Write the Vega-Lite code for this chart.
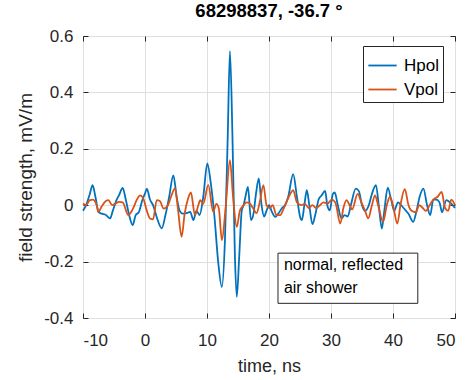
{
  "$schema": "https://vega.github.io/schema/vega-lite/v6.json",
  "autosize": "none",
  "width": 372,
  "height": 282,
  "padding": {"left": 83, "top": 36, "right": 10, "bottom": 62},
  "background": "white",
  "config": {
    "font": "Liberation Sans",
    "view": {"stroke": "#262626", "strokeWidth": 1},
    "axis": {
      "labelFont": "Liberation Sans",
      "titleFont": "Liberation Sans",
      "labelFontSize": 17,
      "labelColor": "#262626",
      "titleColor": "#262626",
      "titleFontSize": 18,
      "titleFontWeight": "normal",
      "tickColor": "#262626",
      "tickSize": -5,
      "domain": false,
      "gridColor": "#dfdfdf",
      "gridWidth": 1
    }
  },
  "title": {
    "text": "68298837, -36.7 °",
    "fontSize": 18.5,
    "fontWeight": "bold",
    "font": "Liberation Sans",
    "color": "#000000",
    "anchor": "middle",
    "offset": 7
  },
  "resolve": {"axis": {"x": "independent", "y": "independent"}},
  "layer": [
    {
      "data": {
        "values": [
          {"time": -10, "field": -0.02, "pol": "Hpol"},
          {"time": -9.5, "field": 0.0, "pol": "Hpol"},
          {"time": -8.9, "field": 0.04, "pol": "Hpol"},
          {"time": -8.45, "field": 0.071, "pol": "Hpol"},
          {"time": -8.0, "field": 0.03, "pol": "Hpol"},
          {"time": -7.5, "field": -0.024, "pol": "Hpol"},
          {"time": -7.0, "field": -0.03, "pol": "Hpol"},
          {"time": -6.3, "field": -0.035, "pol": "Hpol"},
          {"time": -5.65, "field": -0.047, "pol": "Hpol"},
          {"time": -5.2, "field": -0.02, "pol": "Hpol"},
          {"time": -4.6, "field": 0.018, "pol": "Hpol"},
          {"time": -4.2, "field": 0.035, "pol": "Hpol"},
          {"time": -3.6, "field": 0.061, "pol": "Hpol"},
          {"time": -3.1, "field": 0.02, "pol": "Hpol"},
          {"time": -2.5, "field": -0.04, "pol": "Hpol"},
          {"time": -2.0, "field": -0.071, "pol": "Hpol"},
          {"time": -1.5, "field": -0.035, "pol": "Hpol"},
          {"time": -1.0, "field": -0.025, "pol": "Hpol"},
          {"time": -0.4, "field": 0.02, "pol": "Hpol"},
          {"time": 0.0, "field": 0.041, "pol": "Hpol"},
          {"time": 0.3, "field": 0.059, "pol": "Hpol"},
          {"time": 0.8, "field": 0.02, "pol": "Hpol"},
          {"time": 1.3, "field": 0.0, "pol": "Hpol"},
          {"time": 2.0, "field": -0.05, "pol": "Hpol"},
          {"time": 2.7, "field": -0.082, "pol": "Hpol"},
          {"time": 3.3, "field": -0.035, "pol": "Hpol"},
          {"time": 3.9, "field": 0.03, "pol": "Hpol"},
          {"time": 4.57, "field": 0.106, "pol": "Hpol"},
          {"time": 5.1, "field": 0.03, "pol": "Hpol"},
          {"time": 5.6, "field": -0.02, "pol": "Hpol"},
          {"time": 6.1, "field": -0.03, "pol": "Hpol"},
          {"time": 6.7, "field": -0.028, "pol": "Hpol"},
          {"time": 7.3, "field": -0.024, "pol": "Hpol"},
          {"time": 7.8, "field": -0.053, "pol": "Hpol"},
          {"time": 8.3, "field": -0.02, "pol": "Hpol"},
          {"time": 8.8, "field": -0.035, "pol": "Hpol"},
          {"time": 9.4, "field": 0.03, "pol": "Hpol"},
          {"time": 10.05, "field": 0.148, "pol": "Hpol"},
          {"time": 10.6, "field": 0.08, "pol": "Hpol"},
          {"time": 11.2, "field": -0.04, "pol": "Hpol"},
          {"time": 11.8, "field": -0.2, "pol": "Hpol"},
          {"time": 12.4, "field": -0.29, "pol": "Hpol"},
          {"time": 12.9, "field": -0.12, "pol": "Hpol"},
          {"time": 13.35, "field": 0.25, "pol": "Hpol"},
          {"time": 13.7, "field": 0.546, "pol": "Hpol"},
          {"time": 14.1, "field": 0.25, "pol": "Hpol"},
          {"time": 14.5, "field": -0.18, "pol": "Hpol"},
          {"time": 14.8, "field": -0.325, "pol": "Hpol"},
          {"time": 15.2, "field": -0.18, "pol": "Hpol"},
          {"time": 15.6, "field": -0.02, "pol": "Hpol"},
          {"time": 15.9, "field": 0.0, "pol": "Hpol"},
          {"time": 16.2, "field": 0.03, "pol": "Hpol"},
          {"time": 16.6, "field": 0.065, "pol": "Hpol"},
          {"time": 17.1, "field": -0.053, "pol": "Hpol"},
          {"time": 17.5, "field": -0.03, "pol": "Hpol"},
          {"time": 17.9, "field": 0.04, "pol": "Hpol"},
          {"time": 18.35, "field": 0.095, "pol": "Hpol"},
          {"time": 18.8, "field": 0.0, "pol": "Hpol"},
          {"time": 19.2, "field": -0.04, "pol": "Hpol"},
          {"time": 19.6, "field": -0.02, "pol": "Hpol"},
          {"time": 20.0, "field": 0.0, "pol": "Hpol"},
          {"time": 20.4, "field": -0.02, "pol": "Hpol"},
          {"time": 21.0, "field": -0.041, "pol": "Hpol"},
          {"time": 21.5, "field": -0.03, "pol": "Hpol"},
          {"time": 22.1, "field": -0.01, "pol": "Hpol"},
          {"time": 22.6, "field": 0.0, "pol": "Hpol"},
          {"time": 23.1, "field": 0.03, "pol": "Hpol"},
          {"time": 23.9, "field": 0.11, "pol": "Hpol"},
          {"time": 24.5, "field": 0.03, "pol": "Hpol"},
          {"time": 25.0, "field": -0.04, "pol": "Hpol"},
          {"time": 25.3, "field": -0.053, "pol": "Hpol"},
          {"time": 25.7, "field": 0.0, "pol": "Hpol"},
          {"time": 26.1, "field": 0.053, "pol": "Hpol"},
          {"time": 26.5, "field": 0.0, "pol": "Hpol"},
          {"time": 27.0, "field": -0.067, "pol": "Hpol"},
          {"time": 27.5, "field": -0.03, "pol": "Hpol"},
          {"time": 28.0, "field": 0.02, "pol": "Hpol"},
          {"time": 28.5, "field": 0.035, "pol": "Hpol"},
          {"time": 29.05, "field": 0.051, "pol": "Hpol"},
          {"time": 29.4, "field": 0.0, "pol": "Hpol"},
          {"time": 29.8, "field": -0.018, "pol": "Hpol"},
          {"time": 30.3, "field": 0.04, "pol": "Hpol"},
          {"time": 30.6, "field": 0.045, "pol": "Hpol"},
          {"time": 31.1, "field": 0.0, "pol": "Hpol"},
          {"time": 31.7, "field": -0.047, "pol": "Hpol"},
          {"time": 32.2, "field": -0.035, "pol": "Hpol"},
          {"time": 32.7, "field": -0.04, "pol": "Hpol"},
          {"time": 33.2, "field": 0.0, "pol": "Hpol"},
          {"time": 34.0, "field": 0.059, "pol": "Hpol"},
          {"time": 34.5, "field": 0.05, "pol": "Hpol"},
          {"time": 35.0, "field": 0.0, "pol": "Hpol"},
          {"time": 35.5, "field": -0.02, "pol": "Hpol"},
          {"time": 36.1, "field": 0.0, "pol": "Hpol"},
          {"time": 36.6, "field": 0.04, "pol": "Hpol"},
          {"time": 37.25, "field": 0.071, "pol": "Hpol"},
          {"time": 37.7, "field": 0.0, "pol": "Hpol"},
          {"time": 38.2, "field": -0.083, "pol": "Hpol"},
          {"time": 38.6, "field": -0.02, "pol": "Hpol"},
          {"time": 39.15, "field": 0.062, "pol": "Hpol"},
          {"time": 39.7, "field": 0.02, "pol": "Hpol"},
          {"time": 40.2, "field": -0.02, "pol": "Hpol"},
          {"time": 40.8, "field": 0.01, "pol": "Hpol"},
          {"time": 41.3, "field": 0.0, "pol": "Hpol"},
          {"time": 41.9, "field": -0.015, "pol": "Hpol"},
          {"time": 42.5, "field": -0.03, "pol": "Hpol"},
          {"time": 43.25, "field": -0.059, "pol": "Hpol"},
          {"time": 43.8, "field": -0.02, "pol": "Hpol"},
          {"time": 44.3, "field": 0.03, "pol": "Hpol"},
          {"time": 44.9, "field": 0.059, "pol": "Hpol"},
          {"time": 45.5, "field": 0.0, "pol": "Hpol"},
          {"time": 46.0, "field": -0.035, "pol": "Hpol"},
          {"time": 46.5, "field": 0.02, "pol": "Hpol"},
          {"time": 47.0, "field": 0.02, "pol": "Hpol"},
          {"time": 47.5, "field": 0.01, "pol": "Hpol"},
          {"time": 47.9, "field": -0.025, "pol": "Hpol"},
          {"time": 48.6, "field": 0.018, "pol": "Hpol"},
          {"time": 49.2, "field": 0.01, "pol": "Hpol"},
          {"time": 50.0, "field": -0.01, "pol": "Hpol"},
          {"time": -10, "field": 0.006, "pol": "Vpol"},
          {"time": -9.5, "field": 0.0, "pol": "Vpol"},
          {"time": -8.9, "field": 0.018, "pol": "Vpol"},
          {"time": -8.4, "field": 0.02, "pol": "Vpol"},
          {"time": -7.8, "field": 0.0, "pol": "Vpol"},
          {"time": -7.5, "field": -0.024, "pol": "Vpol"},
          {"time": -7.0, "field": -0.005, "pol": "Vpol"},
          {"time": -6.3, "field": 0.015, "pol": "Vpol"},
          {"time": -5.9, "field": 0.018, "pol": "Vpol"},
          {"time": -5.3, "field": 0.0, "pol": "Vpol"},
          {"time": -4.8, "field": 0.005, "pol": "Vpol"},
          {"time": -4.2, "field": 0.012, "pol": "Vpol"},
          {"time": -3.6, "field": 0.01, "pol": "Vpol"},
          {"time": -2.7, "field": -0.035, "pol": "Vpol"},
          {"time": -2.0, "field": -0.015, "pol": "Vpol"},
          {"time": -1.3, "field": 0.02, "pol": "Vpol"},
          {"time": -0.8, "field": 0.035, "pol": "Vpol"},
          {"time": -0.3, "field": 0.025, "pol": "Vpol"},
          {"time": 0.3, "field": -0.02, "pol": "Vpol"},
          {"time": 0.8, "field": -0.047, "pol": "Vpol"},
          {"time": 1.3, "field": -0.05, "pol": "Vpol"},
          {"time": 1.9, "field": 0.018, "pol": "Vpol"},
          {"time": 2.4, "field": 0.015, "pol": "Vpol"},
          {"time": 3.0, "field": -0.012, "pol": "Vpol"},
          {"time": 3.7, "field": 0.0, "pol": "Vpol"},
          {"time": 4.2, "field": 0.03, "pol": "Vpol"},
          {"time": 4.84, "field": 0.06, "pol": "Vpol"},
          {"time": 5.3, "field": -0.01, "pol": "Vpol"},
          {"time": 5.9, "field": -0.112, "pol": "Vpol"},
          {"time": 6.4, "field": -0.03, "pol": "Vpol"},
          {"time": 6.9, "field": 0.02, "pol": "Vpol"},
          {"time": 7.4, "field": 0.045, "pol": "Vpol"},
          {"time": 8.06, "field": -0.035, "pol": "Vpol"},
          {"time": 8.6, "field": 0.0, "pol": "Vpol"},
          {"time": 8.9, "field": 0.018, "pol": "Vpol"},
          {"time": 9.4, "field": 0.005, "pol": "Vpol"},
          {"time": 10.2, "field": 0.072, "pol": "Vpol"},
          {"time": 11.0, "field": -0.024, "pol": "Vpol"},
          {"time": 11.5, "field": 0.005, "pol": "Vpol"},
          {"time": 11.9, "field": -0.01, "pol": "Vpol"},
          {"time": 12.4, "field": -0.124, "pol": "Vpol"},
          {"time": 13.0, "field": -0.01, "pol": "Vpol"},
          {"time": 13.7, "field": 0.16, "pol": "Vpol"},
          {"time": 14.2, "field": 0.03, "pol": "Vpol"},
          {"time": 14.8, "field": -0.077, "pol": "Vpol"},
          {"time": 15.3, "field": -0.02, "pol": "Vpol"},
          {"time": 15.9, "field": 0.0, "pol": "Vpol"},
          {"time": 16.4, "field": 0.01, "pol": "Vpol"},
          {"time": 16.9, "field": 0.006, "pol": "Vpol"},
          {"time": 17.4, "field": -0.01, "pol": "Vpol"},
          {"time": 18.0, "field": -0.028, "pol": "Vpol"},
          {"time": 18.5, "field": 0.01, "pol": "Vpol"},
          {"time": 19.1, "field": 0.071, "pol": "Vpol"},
          {"time": 19.6, "field": 0.0, "pol": "Vpol"},
          {"time": 20.1, "field": -0.01, "pol": "Vpol"},
          {"time": 20.6, "field": 0.0, "pol": "Vpol"},
          {"time": 21.2, "field": -0.035, "pol": "Vpol"},
          {"time": 21.8, "field": -0.035, "pol": "Vpol"},
          {"time": 22.4, "field": -0.01, "pol": "Vpol"},
          {"time": 23.0, "field": 0.02, "pol": "Vpol"},
          {"time": 23.9, "field": 0.053, "pol": "Vpol"},
          {"time": 24.5, "field": 0.01, "pol": "Vpol"},
          {"time": 25.2, "field": 0.0, "pol": "Vpol"},
          {"time": 25.8, "field": 0.005, "pol": "Vpol"},
          {"time": 26.4, "field": -0.01, "pol": "Vpol"},
          {"time": 27.0, "field": 0.0, "pol": "Vpol"},
          {"time": 27.6, "field": -0.01, "pol": "Vpol"},
          {"time": 28.2, "field": 0.0, "pol": "Vpol"},
          {"time": 28.8, "field": 0.01, "pol": "Vpol"},
          {"time": 29.4, "field": 0.005, "pol": "Vpol"},
          {"time": 30.1, "field": 0.02, "pol": "Vpol"},
          {"time": 30.7, "field": 0.01, "pol": "Vpol"},
          {"time": 31.5, "field": -0.065, "pol": "Vpol"},
          {"time": 32.0, "field": -0.01, "pol": "Vpol"},
          {"time": 32.5, "field": 0.018, "pol": "Vpol"},
          {"time": 33.0, "field": 0.0, "pol": "Vpol"},
          {"time": 33.4, "field": -0.015, "pol": "Vpol"},
          {"time": 34.3, "field": 0.04, "pol": "Vpol"},
          {"time": 34.9, "field": 0.01, "pol": "Vpol"},
          {"time": 35.5, "field": -0.02, "pol": "Vpol"},
          {"time": 36.0, "field": -0.047, "pol": "Vpol"},
          {"time": 36.6, "field": 0.0, "pol": "Vpol"},
          {"time": 37.1, "field": 0.035, "pol": "Vpol"},
          {"time": 37.6, "field": 0.0, "pol": "Vpol"},
          {"time": 38.4, "field": -0.059, "pol": "Vpol"},
          {"time": 39.0, "field": 0.0, "pol": "Vpol"},
          {"time": 39.5, "field": 0.03, "pol": "Vpol"},
          {"time": 40.0, "field": 0.0, "pol": "Vpol"},
          {"time": 40.7, "field": -0.065, "pol": "Vpol"},
          {"time": 41.2, "field": 0.0, "pol": "Vpol"},
          {"time": 41.9, "field": 0.057, "pol": "Vpol"},
          {"time": 42.5, "field": 0.0, "pol": "Vpol"},
          {"time": 43.0, "field": -0.02, "pol": "Vpol"},
          {"time": 43.7, "field": -0.025, "pol": "Vpol"},
          {"time": 44.2, "field": 0.0, "pol": "Vpol"},
          {"time": 44.8, "field": -0.01, "pol": "Vpol"},
          {"time": 45.3, "field": -0.02, "pol": "Vpol"},
          {"time": 45.9, "field": 0.0, "pol": "Vpol"},
          {"time": 46.5, "field": 0.02, "pol": "Vpol"},
          {"time": 47.2, "field": 0.03, "pol": "Vpol"},
          {"time": 47.85, "field": 0.047, "pol": "Vpol"},
          {"time": 48.4, "field": -0.01, "pol": "Vpol"},
          {"time": 48.9, "field": -0.02, "pol": "Vpol"},
          {"time": 49.4, "field": 0.02, "pol": "Vpol"},
          {"time": 50.0, "field": 0.0, "pol": "Vpol"}
        ]
      },
      "mark": {"type": "line", "interpolate": "monotone", "strokeWidth": 1.8},
      "encoding": {
        "x": {
          "field": "time", "type": "quantitative",
          "scale": {"domain": [-10, 50], "nice": false, "zero": false},
          "axis": {
            "orient": "bottom", "values": [-10, 0, 10, 20, 30, 40, 50],
            "title": "time, ns", "labelPadding": 19, "titlePadding": 9,
            "labelExpr": "datum.value < 0 ? '-' + format(-datum.value, '~g') : format(datum.value, '~g')"
          }
        },
        "y": {
          "field": "field", "type": "quantitative",
          "scale": {"domain": [-0.4, 0.6], "nice": false, "zero": false},
          "axis": {
            "orient": "left", "values": [-0.4, -0.2, 0, 0.2, 0.4, 0.6],
            "title": "field strength, mV/m", "labelPadding": 15, "titlePadding": 8,
            "titleFontSize": 19,
            "labelExpr": "datum.value < 0 ? '-' + format(-datum.value, '~g') : format(datum.value, '~g')"
          }
        },
        "color": {
          "field": "pol", "type": "nominal",
          "scale": {"domain": ["Hpol", "Vpol"], "range": ["#0072BD", "#D95319"]},
          "legend": {
            "title": null, "orient": "none", "legendX": 280, "legendY": 10,
            "symbolType": "stroke", "symbolSize": 800, "symbolStrokeWidth": 1.8,
            "labelFontSize": 17, "labelFont": "Liberation Sans", "labelColor": "#000000",
            "strokeColor": "#262626", "fillColor": "white", "padding": 4,
            "rowPadding": 0, "labelOffset": 6
          }
        }
      }
    },
    {
      "data": {"values": [{}]},
      "mark": {"type": "rect", "fill": "white", "stroke": "#262626", "strokeWidth": 1},
      "encoding": {
        "x": {"datum": 21.45, "type": "quantitative",
          "axis": {"orient": "top", "values": [-10, 0, 10, 20, 30, 40, 50], "labels": false, "grid": false, "title": null}},
        "x2": {"datum": 44.0},
        "y": {"datum": -0.17, "type": "quantitative",
          "axis": {"orient": "right", "values": [-0.4, -0.2, 0, 0.2, 0.4, 0.6], "labels": false, "grid": false, "title": null}},
        "y2": {"datum": -0.348}
      }
    },
    {
      "data": {"values": [{}]},
      "mark": {"type": "text", "align": "left", "baseline": "top", "fontSize": 16, "font": "Liberation Sans", "color": "#000000", "lineHeight": 23, "lineBreak": "\n"},
      "encoding": {
        "x": {"datum": 22.4, "type": "quantitative", "axis": null},
        "y": {"datum": -0.183, "type": "quantitative", "axis": null},
        "text": {"value": "normal, reflected\n\u00a0air shower"}
      }
    }
  ]
}
